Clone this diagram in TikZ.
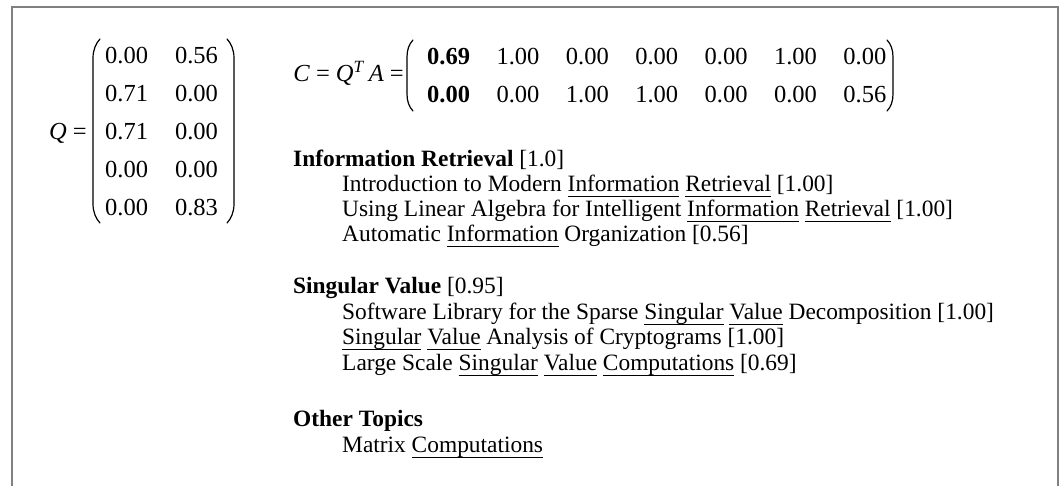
\documentclass[tikz,border=0pt]{standalone}
\usepackage{fontspec}
\setmainfont{Liberation Serif}
\usetikzlibrary{matrix}

\newcommand{\numsize}{\fontsize{24.5}{29}\selectfont}
\newcommand{\txtsize}{\fontsize{23.4}{26}\selectfont}
\newcommand{\ulw}[1]{\setbox0=\hbox{#1}\rlap{\rule[-5.5pt]{\wd0}{1.1pt}}\box0\relax}

\begin{document}
\begin{tikzpicture}[x=1pt, y=-1pt,
  frame/.style={draw=black!50, line width=1.3pt},
  paren/.style={line width=1.2pt, line cap=round},
  entries/.style={matrix of nodes, inner sep=0pt, row sep=21.4pt, column sep=#1,
    nodes={inner sep=0pt, text height=16.6pt, text depth=0pt, font=\numsize}},
  lbl/.style={anchor=base east, inner sep=0pt, font=\numsize},
  txt/.style={anchor=base west, inner sep=0pt, font=\txtsize}]
  \useasboundingbox (0,0) rectangle (1061,486);
  \draw[frame] (12,486) -- (12,7) -- (1058,7) -- (1058,486);

  % Q
  \matrix (q) [entries=27pt, anchor=north west] at (105,47) {
    0.00 & 0.56 \\
    0.71 & 0.00 \\
    0.71 & 0.00 \\
    0.00 & 0.00 \\
    0.00 & 0.83 \\
  };
  \node[lbl] (qlab) at (87,139.6) {\textit{Q} =};
  \draw[paren] (100,39) .. controls (96,43) and (93,50) .. (93,58) -- (93,204)
    .. controls (93,212) and (96,219) .. (100,223);
  \draw[paren] (227,39) .. controls (231,43) and (234,50) .. (234,58) -- (234,204)
    .. controls (234,212) and (231,219) .. (227,223);

  % C
  \matrix (c) [entries=26.5pt, anchor=north west] at (427,48) {
    |[font=\numsize\bfseries]| 0.69 & 1.00 & 0.00 & 0.00 & 0.00 & 1.00 & 0.00 \\
    |[font=\numsize\bfseries]| 0.00 & 0.00 & 1.00 & 1.00 & 0.00 & 0.00 & 0.56 \\
  };
  \node[lbl] (clab) at (404,82) {\textit{C} = \textit{Q}\textsuperscript{\textit{T}}\,\textit{A} =};
  \draw[paren] (413,40) .. controls (409,44) and (407,50) .. (407,57) -- (407,94)
    .. controls (407,101) and (409,107) .. (413,111);
  \draw[paren] (887,40) .. controls (891,44) and (893,50) .. (893,57) -- (893,94)
    .. controls (893,101) and (891,107) .. (887,111);

  % topics
  \node[txt] (ir) at (293,167) {\textbf{Information Retrieval} [1.0]};
  \node[txt] (ir1) at (342,192) {Introduction to Modern \ulw{Information} \ulw{Retrieval} [1.00]};
  \node[txt] (ir2) at (342,217) {Using Linear Algebra for Intelligent \ulw{Information} \ulw{Retrieval} [1.00]};
  \node[txt] (ir3) at (342,242) {Automatic \ulw{Information} Organization [0.56]};
  \node[txt] (sv) at (293,294) {\textbf{Singular Value} [0.95]};
  \node[txt] (sv1) at (342,319.5) {Software Library for the Sparse \ulw{Singular} \ulw{Value} Decomposition [1.00]};
  \node[txt] (sv2) at (342,345) {\ulw{Singular} \ulw{Value} Analysis of Cryptograms [1.00]};
  \node[txt] (sv3) at (342,370.5) {Large Scale \ulw{Singular} \ulw{Value} \ulw{Computations} [0.69]};
  \node[txt] (ot) at (293,427) {\textbf{Other Topics}};
  \node[txt] (ot1) at (342,452.5) {Matrix \ulw{Computations}};
\end{tikzpicture}
\end{document}
